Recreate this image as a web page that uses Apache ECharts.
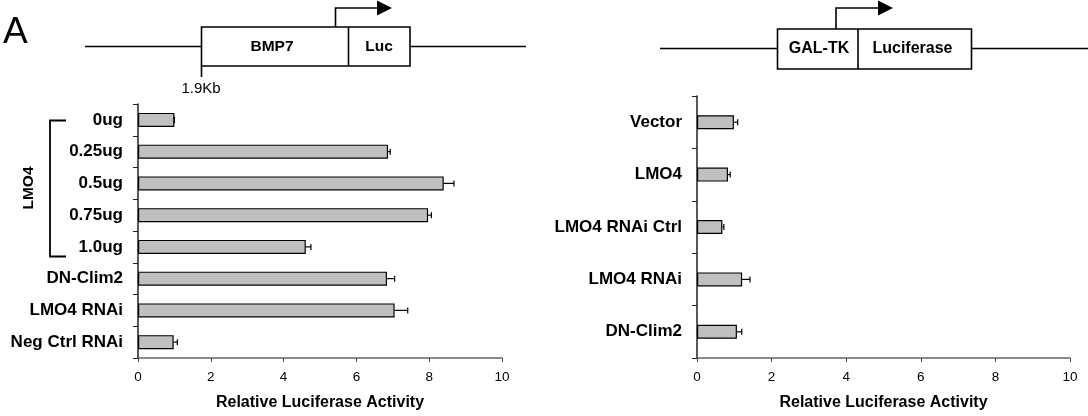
<!DOCTYPE html>
<html>
<head>
<meta charset="utf-8">
<script src="https://cdn.jsdelivr.net/npm/echarts@6.0.0/dist/echarts.min.js"></script>
<style>
html,body{margin:0;padding:0;background:#fff;}
#chart{width:1088px;height:416px;}
</style>
</head>
<body>
<div id="chart"></div>
<script>
// ---- data ----
const leftCategories = ['0ug', '0.25ug', '0.5ug', '0.75ug', '1.0ug', 'DN-Clim2', 'LMO4 RNAi', 'Neg Ctrl RNAi'];
const leftValues = [1.0, 6.87, 8.40, 7.97, 4.61, 6.84, 7.05, 0.98];
const leftErrors = [0.0, 0.06, 0.28, 0.09, 0.14, 0.21, 0.36, 0.10];

const rightCategories = ['Vector', 'LMO4', 'LMO4 RNAi Ctrl', 'LMO4 RNAi', 'DN-Clim2'];
const rightValues = [0.99, 0.83, 0.68, 1.21, 1.07];
const rightErrors = [0.10, 0.06, 0.04, 0.21, 0.13];

const xTicks = [0, 2, 4, 6, 8, 10];
const xAxisTitle = 'Relative Luciferase Activity';
const groupLabel = 'LMO4';

// ---- styling ----
const FONT = "'Liberation Sans', Arial, sans-serif";

function xAxisCfg(gridIndex) {
  return {
    gridIndex: gridIndex, type: 'value', min: xTicks[0], max: xTicks[xTicks.length - 1], interval: xTicks[1] - xTicks[0],
    name: xAxisTitle, nameLocation: 'middle', nameGap: 37,
    nameTextStyle: {fontFamily: FONT, fontWeight: 'bold', fontSize: 16, color: '#000'},
    axisLine: {show: true, lineStyle: {color: '#666', width: 1.5}},
    axisTick: {show: true, length: 4, lineStyle: {color: '#444'}},
    axisLabel: {fontFamily: FONT, fontSize: 13.5, color: '#000', margin: 12},
    splitLine: {show: false}
  };
}
function yAxisCfg(gridIndex, cats) {
  return {
    gridIndex: gridIndex, type: 'category', data: cats, inverse: true,
    axisLine: {show: true, lineStyle: {color: '#222', width: 1.5}},
    axisTick: {show: true, length: 5, lineStyle: {color: '#222'}},
    axisLabel: {fontFamily: FONT, fontWeight: 'bold', fontSize: 17, color: '#000', margin: 15},
    splitLine: {show: false}
  };
}
function errData(vals, errs) {
  return vals.map((v, i) => [v, errs[i], i]);
}
function errRender(params, api) {
  const v = api.value(0), e = api.value(1), idx = api.value(2);
  const p0 = api.coord([v, idx]);
  const p1 = api.coord([v + e, idx]);
  const h = 3;
  return {
    type: 'group',
    children: [
      {type: 'line', shape: {x1: p0[0], y1: p0[1], x2: p1[0], y2: p1[1]}, style: {stroke: '#000', lineWidth: 1.2}},
      {type: 'line', shape: {x1: p1[0], y1: p1[1] - h, x2: p1[0], y2: p1[1] + h}, style: {stroke: '#000', lineWidth: 1.2}}
    ]
  };
}

const lineStyle = {stroke: '#000', lineWidth: 1.6};
function txt(text, x, y, opts) {
  return {
    type: 'text', x: x, y: y,
    style: Object.assign({text: text, fill: '#000', font: 'bold 16px ' + FONT,
      align: 'center', verticalAlign: 'middle', textAlign: 'center', textVerticalAlign: 'middle'}, opts || {})
  };
}

const graphic = [
  // panel letter
  txt('A', 3, 33, {font: '37px ' + FONT, align: 'left', textAlign: 'left'}),
  // left construct
  {type: 'line', shape: {x1: 85, y1: 46.5, x2: 201.5, y2: 46.5}, style: lineStyle},
  {type: 'line', shape: {x1: 410, y1: 46.5, x2: 526, y2: 46.5}, style: lineStyle},
  {type: 'rect', shape: {x: 201.5, y: 27, width: 208.5, height: 39}, style: {fill: '#fff', stroke: '#000', lineWidth: 1.6}},
  {type: 'line', shape: {x1: 348.5, y1: 27, x2: 348.5, y2: 66}, style: lineStyle},
  {type: 'line', shape: {x1: 201.5, y1: 66, x2: 201.5, y2: 77}, style: lineStyle},
  {type: 'polyline', shape: {points: [[335.5, 27], [335.5, 8], [379, 8]]}, style: {stroke: '#000', lineWidth: 1.6, fill: null}},
  {type: 'polygon', shape: {points: [[377, 0.5], [392, 8], [377, 15.5]]}, style: {fill: '#000'}},
  txt('BMP7', 272, 47, {font: 'bold 15.5px ' + FONT}),
  txt('Luc', 379, 47, {font: 'bold 15.5px ' + FONT}),
  txt('1.9Kb', 201, 89, {font: '15px ' + FONT}),
  // right construct
  {type: 'line', shape: {x1: 660, y1: 48.5, x2: 777.5, y2: 48.5}, style: lineStyle},
  {type: 'line', shape: {x1: 971.5, y1: 48.5, x2: 1088, y2: 48.5}, style: lineStyle},
  {type: 'rect', shape: {x: 777.5, y: 29, width: 194, height: 40}, style: {fill: '#fff', stroke: '#000', lineWidth: 1.6}},
  {type: 'line', shape: {x1: 858, y1: 29, x2: 858, y2: 69}, style: lineStyle},
  {type: 'polyline', shape: {points: [[836, 29], [836, 8], [880, 8]]}, style: {stroke: '#000', lineWidth: 1.6, fill: null}},
  {type: 'polygon', shape: {points: [[878, 0.5], [893, 8], [878, 15.5]]}, style: {fill: '#000'}},
  txt('GAL-TK', 819, 49, {font: 'bold 16px ' + FONT}),
  txt('Luciferase', 912.5, 49, {font: 'bold 16px ' + FONT}),
  // LMO4 bracket
  {type: 'polyline', shape: {points: [[66, 120.5], [50, 120.5], [50, 256.5], [66, 256.5]]}, style: {stroke: '#000', lineWidth: 1.8, fill: null}},
  Object.assign(txt(groupLabel, 29, 188, {font: 'bold 15.5px ' + FONT}), {rotation: Math.PI / 2})
];

const option = {
  backgroundColor: '#fff',
  animation: false,
  grid: [
    {left: 138, right: 586, top: 104, bottom: 57},
    {left: 697, right: 18, top: 96, bottom: 58}
  ],
  xAxis: [xAxisCfg(0), xAxisCfg(1)],
  yAxis: [yAxisCfg(0, leftCategories), yAxisCfg(1, rightCategories)],
  series: [
    {type: 'bar', xAxisIndex: 0, yAxisIndex: 0, data: leftValues, barWidth: 14,
     itemStyle: {color: '#c0c0c0', borderColor: '#000', borderWidth: 1.2}},
    {type: 'custom', xAxisIndex: 0, yAxisIndex: 0, data: errData(leftValues, leftErrors),
     encode: {x: 0, y: 2}, renderItem: errRender, z: 3},
    {type: 'bar', xAxisIndex: 1, yAxisIndex: 1, data: rightValues, barWidth: 14,
     itemStyle: {color: '#c0c0c0', borderColor: '#000', borderWidth: 1.2}},
    {type: 'custom', xAxisIndex: 1, yAxisIndex: 1, data: errData(rightValues, rightErrors),
     encode: {x: 0, y: 2}, renderItem: errRender, z: 3}
  ],
  graphic: graphic
};

const chart = echarts.init(document.getElementById('chart'), null, {renderer: 'canvas'});
chart.setOption(option);
</script>
</body>
</html>
